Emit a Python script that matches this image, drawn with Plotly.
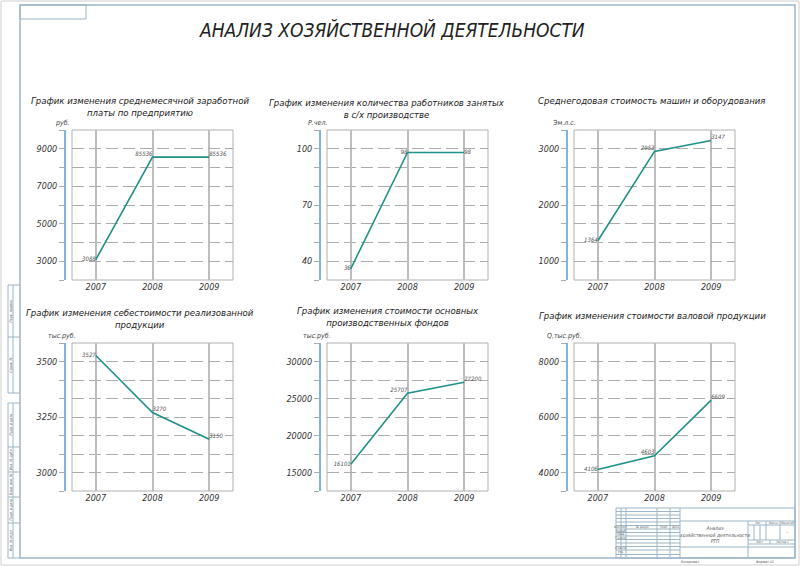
import plotly.graph_objects as go

W, H = 800, 566
FONT = "DejaVu Sans Condensed, DejaVu Sans, sans-serif"

# ---- data ----
years = ["2007", "2008", "2009"]

salary = [3088, 8553.6, 8553.6]
salary_lbl = ["3088", "85536", "85536"]

workers = [36, 98, 98]
workers_lbl = ["36", "98", "98"]

machines = [1364, 2953, 3147]
machines_lbl = ["1364", "2953", "3147"]

cost = [3527, 3270, 3150]
cost_lbl = ["3527", "3270", "3150"]

funds = [16101, 25707, 27200]
funds_lbl = ["16101", "25707", "27200"]

gross = [4106, 4603, 6609]
gross_lbl = ["4106", "4603", "6609"]

titles = [
    "График изменения среднемесячной заработной<br>платы по предприятию",
    "График изменения количества работников занятых<br>в с/х производстве",
    "Среднегодовая стоимость машин и оборудования",
    "График изменения себестоимости реализованной<br>продукции",
    "График изменения стоимости основных<br>производственных фондов",
    "График изменения стоимости валовой продукции",
]
units = ["руб.", "Р.чел.", "Эм.л.с.", "тыс.руб.", "тыс.руб.", "Q,тыс.руб."]

# (values, labels, label positions, y range, tick0, major step, minor step)
panels = [
    (salary, salary_lbl, ["middle left", "top left", "top right"], [2000, 10000], 3000, 2000, 1000),
    (workers, workers_lbl, ["middle left", "middle left", "middle right"], [30, 110], 40, 30, 10),
    (machines, machines_lbl, ["middle left", "top left", "top right"], [2000 / 3, 10000 / 3], 1000, 1000, 1000 / 3),
    (cost, cost_lbl, ["middle left", "top right", "top right"], [2916.67, 3583.33], 3000, 250, 250 / 3),
    (funds, funds_lbl, ["middle left", "top left", "top right"], [12500, 32500], 15000, 5000, 2500),
    (gross, gross_lbl, ["middle left", "top left", "top right"], [3333.33, 8666.67], 4000, 2000, 2000 / 3),
]

# layout of the sheet, pixels: box left, box top, box bottom, title centre x, title centre y
boxes = [
    (72, 130, 280, 140, 106),
    (327, 130, 280, 387, 108),
    (574, 130, 280, 652, 101),
    (72, 343, 491, 140, 318),
    (327, 343, 491, 388, 316),
    (574, 343, 491, 652, 315),
]
BOXW = 161

GRID = "#acacac"
BLUE = "#7fb4de"
FRAME = "#9db5c6"
LINE = "#1f9187"

fig = go.Figure()
shapes = []
ann = []


def px(x):
    return x / W


def py(y):
    return 1 - y / H


for i, ((vals, lbls, pos, yr, t0, dt, mdt), (bl, bt, bb, tx, ty)) in enumerate(zip(panels, boxes)):
    n = "" if i == 0 else str(i + 1)
    fig.add_trace(go.Scatter(
        x=[0, 1, 2], y=vals, mode="lines+text", text=lbls, textposition=pos,
        textfont=dict(size=6, color="#555", family=FONT, style="italic"),
        line=dict(color=LINE, width=1.6), hoverinfo="skip",
        xaxis="x" + n, yaxis="y" + n, showlegend=False, cliponaxis=False,
    ))
    fig.layout["xaxis" + n] = dict(
        domain=[px(bl), px(bl + BOXW)], anchor="y" + n, range=[-0.42, 2.42],
        tickvals=[0, 1, 2], ticktext=years, showgrid=True, gridcolor="#bdbdbd",
        gridwidth=1.5, zeroline=False, showline=False, ticks="",
        tickfont=dict(size=9, color="#333", family=FONT, style="italic"), fixedrange=True,
    )
    fig.layout["yaxis" + n] = dict(
        domain=[py(bb), py(bt)], anchor="free", position=px(bl - 7), range=yr,
        tick0=t0, dtick=dt, tickformat="d", showgrid=True, gridcolor=GRID,
        griddash="12px,5px", gridwidth=1,
        showline=True, linecolor=BLUE, linewidth=2, zeroline=False,
        ticks="outside", ticklen=5, tickcolor=GRID,
        minor=dict(dtick=mdt, tick0=t0, showgrid=True, gridcolor=GRID, griddash="12px,5px",
                   ticks="outside", ticklen=5, tickcolor=GRID),
        tickfont=dict(size=9, color="#333", family=FONT, style="italic"), fixedrange=True,
    )
    shapes.append(dict(type="rect", xref="x%s domain" % n, yref="y%s domain" % n,
                       x0=0, x1=1, y0=0, y1=1, line=dict(color="#b0b0b0", width=1), layer="below"))
    ann.append(dict(x=px(tx), y=py(ty), xref="paper", yref="paper", text=titles[i],
                    showarrow=False, xanchor="center", yanchor="middle",
                    font=dict(size=9.5, color="#222", family=FONT, style="italic")))
    ann.append(dict(x=px(bl - 10), y=py(bt - 7), xref="paper", yref="paper", text=units[i],
                    showarrow=False, xanchor="center", yanchor="middle",
                    font=dict(size=7, color="#444", family=FONT, style="italic")))

ann.append(dict(x=px(392), y=py(30), xref="paper", yref="paper",
                text="АНАЛИЗ ХОЗЯЙСТВЕННОЙ ДЕЯТЕЛЬНОСТИ", showarrow=False,
                xanchor="center", yanchor="middle",
                font=dict(size=19, color="#222", family=FONT, style="italic")))


# ---- drawing frame ----
def seg(x0, y0, x1, y1, color=FRAME, w=1):
    shapes.append(dict(type="line", xref="paper", yref="paper", x0=px(x0), x1=px(x1),
                       y0=py(y0), y1=py(y1), line=dict(color=color, width=w)))


def rect(x0, y0, x1, y1, color=FRAME, w=1):
    shapes.append(dict(type="rect", xref="paper", yref="paper", x0=px(x0), x1=px(x1),
                       y0=py(y0), y1=py(y1), line=dict(color=color, width=w)))


def txt(x, y, s, size=4, angle=0):
    ann.append(dict(x=px(x), y=py(y), xref="paper", yref="paper", text=s, showarrow=False,
                    textangle=angle, borderpad=0, xanchor="center", yanchor="middle",
                    font=dict(size=size, color="#555", family=FONT, style="italic")))


rect(1, 1, 799, 565, color="#cfcfcf")
rect(20, 5, 795, 558, w=1.5)
rect(20, 5, 86, 19)

# side strips
for y0, y1, divs, names in [
    (285, 393, [337], ["Перв. примен.", "Справ. №"]),
    (403, 558, [447, 472, 497, 523], ["Подп. и дата", "Инв. № дубл.", "Взам. инв. №", "Подп. и дата", "Инв. № подл."]),
]:
    seg(8, y0, 8, y1)
    seg(13, y0, 13, y1)
    edges = [y0] + divs + [y1]
    for e in edges:
        seg(8, e, 20, e)
    for k, nm in enumerate(names):
        txt(10.5, (edges[k] + edges[k + 1]) / 2, nm, size=3.5, angle=-90)

# title block
rect(616, 508, 795, 558)
for x in [621, 626, 657, 670, 680]:
    seg(x, 508, x, 558)
for y in [511.5, 515, 518.5, 522, 525.5, 529, 532.5, 536, 539.5, 543, 546.5, 550, 554.5]:
    seg(616, y, 680, y)
seg(680, 521, 795, 521)
seg(680, 547, 795, 547)
seg(748, 521, 748, 558)
seg(748, 525, 795, 525)
for x in [754, 760]:
    seg(x, 525, x, 540)
seg(766, 521, 766, 540)
seg(780, 521, 780, 540)
seg(748, 540, 795, 540)
seg(770, 540, 770, 544)
seg(748, 544, 795, 544)

for x, s in [(621, "Изм.Лист"), (641.5, "№ докум."), (663.5, "Подп."), (675, "Дата")]:
    txt(x, 527.3, s, size=3)
for y, s in [(530.8, "Разраб."), (534.3, "Пров."), (537.8, "Т.контр."), (548.3, "Н.контр."), (552.3, "Утв.")]:
    txt(621, y, s, size=3)
txt(714, 534, "Анализ<br>хозяйственной деятельности<br>РТП", size=5)
txt(757, 523, "Лит.", size=3)
txt(773, 523, "Масса", size=3)
txt(787.5, 523, "Масштаб", size=3)
txt(787.5, 532, "–", size=5)
txt(759, 542, "Лист", size=3)
txt(782, 542, "Листов 1", size=3)
txt(690, 561.5, "Копировал", size=3.5)
txt(765, 561.5, "Формат А1", size=3.5)

fig.update_layout(
    width=W, height=H, margin=dict(l=0, r=0, t=0, b=0),
    paper_bgcolor="white", plot_bgcolor="white",
    font=dict(family=FONT, style="italic", color="#333"),
    shapes=shapes, annotations=ann, showlegend=False,
)

fig.write_html("out.html", config={"displayModeBar": False},
               post_script="document.body.style.margin='0';")
